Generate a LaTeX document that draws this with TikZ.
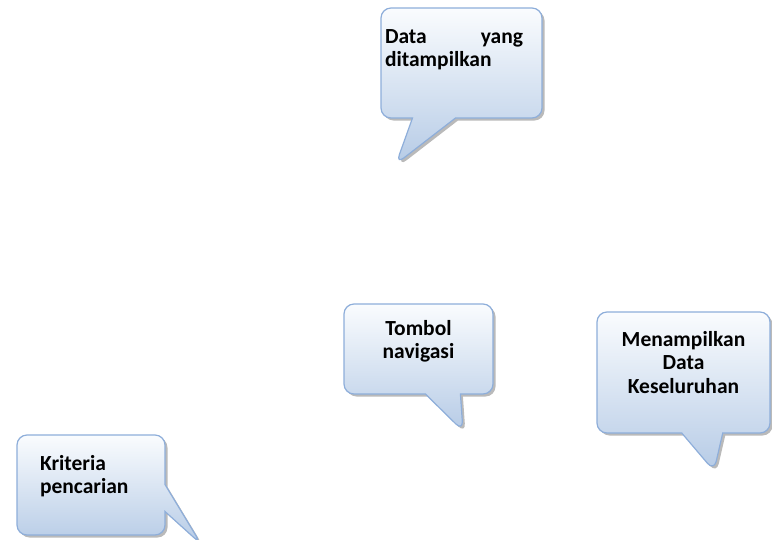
\documentclass[tikz,border=0pt]{standalone}
\usepackage{fontspec}
\setmainfont{Carlito}
\usepackage{tikz}
\usetikzlibrary{shapes,shadows}
\definecolor{bubbleline}{HTML}{8EAEDA}
\definecolor{bubbletop}{HTML}{FAFCFE}
\definecolor{bubblebot}{HTML}{B6CBE6}
\tikzset{bubble/.style={rectangle callout, draw=bubbleline, line width=1.2pt,
    rounded corners=10pt, top color=bubbletop, bottom color=bubblebot, inner sep=0pt,
    drop shadow={shadow xshift=2.5pt, shadow yshift=-2.5pt, fill=black!45, opacity=0.6},
    font=\fontsize{21.5}{23.5}\selectfont\bfseries}
}

\begin{document}
\begin{tikzpicture}[x=1pt, y=-1pt]
        \useasboundingbox (0,0) rectangle (772,539);

        \node[bubble, minimum width=161pt, text width=153pt, text height=35pt, text depth=75pt,
              align=justify, callout absolute pointer={(396,164)}, callout pointer width=43pt]
              (data) at (461.5,63) {\rightskip=15pt\hyphenpenalty=10000\tolerance=10000 Data yang ditampilkan\par};
        \node[bubble, minimum width=149pt, text width=149pt, text height=31pt, text depth=59pt,
              align=center, callout absolute pointer={(463,431)}, callout pointer width=35pt]
              (tombol) at (418.5,349) {Tombol\\navigasi};
        \node[bubble, minimum width=173pt, text width=173pt, text height=34pt, text depth=87pt,
              align=center, callout absolute pointer={(714,471)}, callout pointer width=41pt]
              (tampil) at (683.5,372.5) {Menampilkan\\Data\\Keseluruhan};
        \node[bubble, minimum width=148pt, text width=102pt, text height=35pt, text depth=65pt,
              align=left, callout absolute pointer={(201,544)}, callout pointer width=27pt]
              (kriteria) at (91,485) {Kriteria\\pencarian};
      \end{tikzpicture}
\end{document}
